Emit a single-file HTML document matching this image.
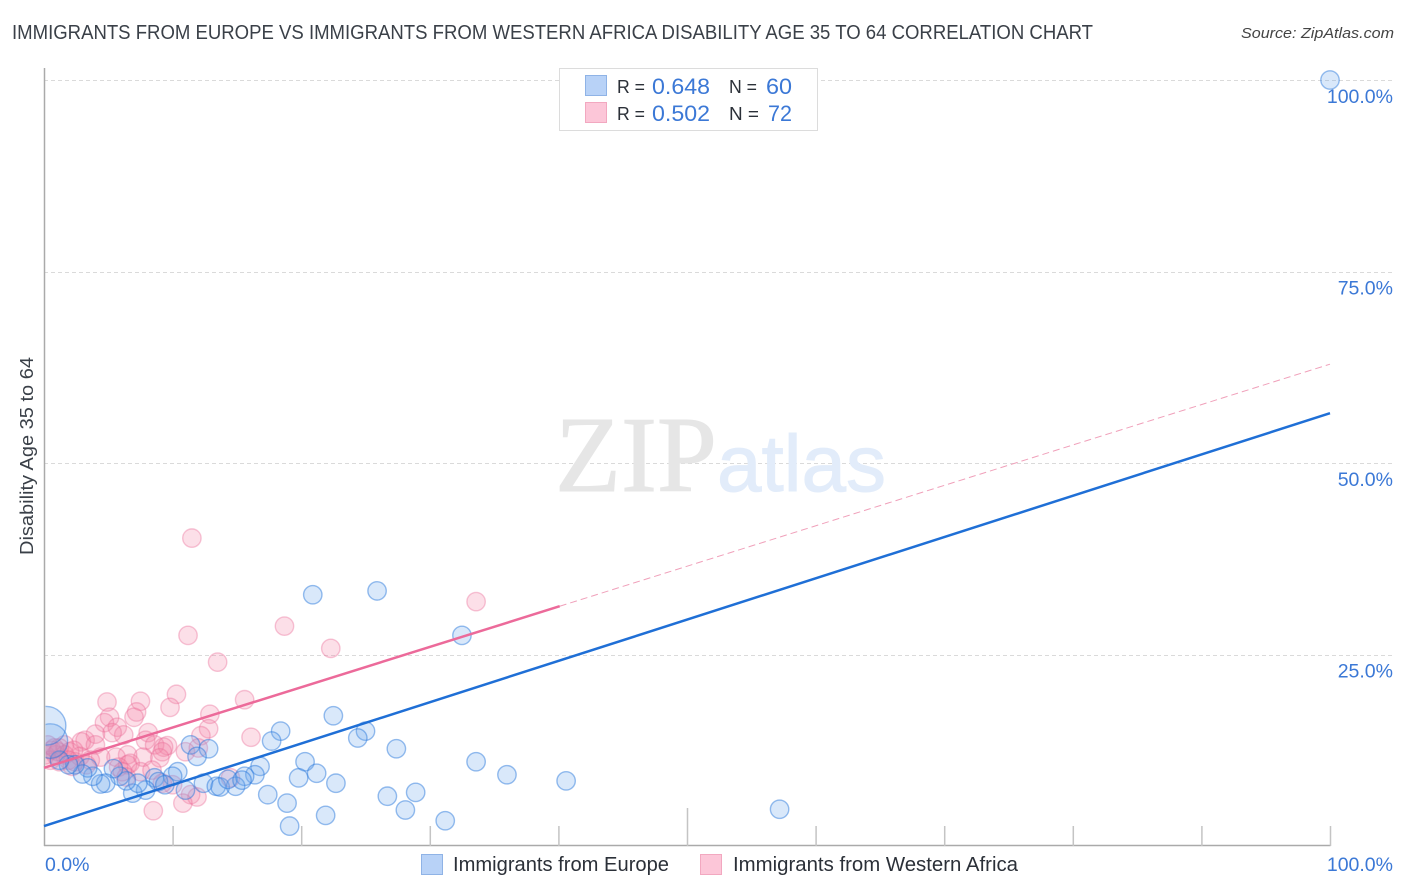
<!DOCTYPE html>
<html lang="en">
<head>
<meta charset="utf-8">
<title>Immigrants from Europe vs Immigrants from Western Africa Disability Age 35 to 64 Correlation Chart</title>
<style>
html,body{margin:0;padding:0;background:#fff;width:1406px;height:892px;overflow:hidden}
svg{display:block;font-family:"Liberation Sans",sans-serif}
</style>
</head>
<body>
<svg id="chart" width="1406" height="892" viewBox="0 0 1406 892" xmlns="http://www.w3.org/2000/svg">
<defs><clipPath id="plot-clip"><rect x="45.5" y="60" width="1355" height="786"/></clipPath></defs>
<rect x="0" y="0" width="1406" height="892" fill="#fff"/>
<text x="12" y="39" font-size="20" fill="#3a4048" textLength="1081" lengthAdjust="spacingAndGlyphs">IMMIGRANTS FROM EUROPE VS IMMIGRANTS FROM WESTERN AFRICA DISABILITY AGE 35 TO 64 CORRELATION CHART</text>
<text x="1394" y="38" font-size="15" font-style="italic" fill="#444" text-anchor="end" textLength="153" lengthAdjust="spacingAndGlyphs">Source: ZipAtlas.com</text>
<g id="grid"></g>
<g>
<text x="555" y="491" font-family="'Liberation Serif',serif" font-size="108" fill="#e6e6e6" stroke="#e6e6e6" stroke-width="1">ZIP</text>
<text x="717" y="491" font-size="80" fill="#e2ecfa" stroke="#e2ecfa" stroke-width="1">atlas</text>
</g>
<g id="axes"></g>
<g id="points" clip-path="url(#plot-clip)"></g>
<g id="trends"></g>
<g id="labels"></g>
<text transform="translate(33,456) rotate(-90)" font-size="18" fill="#3a4048" text-anchor="middle" textLength="198" lengthAdjust="spacingAndGlyphs">Disability Age 35 to 64</text>
<g>
<rect x="559.5" y="68.5" width="258" height="62" fill="#fff" stroke="#dcdcdc" stroke-width="1"/>
<rect x="585.5" y="75.5" width="21" height="20" fill="#b8d2f7" stroke="#8fb3e6"/>
<text x="617" y="93" font-size="18" fill="#2b3038" textLength="28" lengthAdjust="spacingAndGlyphs">R =</text>
<text x="652" y="94" font-size="22" fill="#3b78d6" textLength="58" lengthAdjust="spacingAndGlyphs">0.648</text>
<text x="729" y="93" font-size="18" fill="#2b3038" textLength="28" lengthAdjust="spacingAndGlyphs">N =</text>
<text x="766" y="94" font-size="22" fill="#3b78d6" textLength="26" lengthAdjust="spacingAndGlyphs">60</text>
<rect x="585.5" y="102.5" width="21" height="20" fill="#fcc6d8" stroke="#f2a8c0"/>
<text x="617" y="120" font-size="18" fill="#2b3038" textLength="28" lengthAdjust="spacingAndGlyphs">R =</text>
<text x="652" y="121" font-size="22" fill="#3b78d6" textLength="58" lengthAdjust="spacingAndGlyphs">0.502</text>
<text x="729" y="120" font-size="18" fill="#2b3038" textLength="30" lengthAdjust="spacingAndGlyphs">N =</text>
<text x="768" y="121" font-size="22" fill="#3b78d6" textLength="24" lengthAdjust="spacingAndGlyphs">72</text>
</g>
<g>
<rect x="421.5" y="854.5" width="21" height="20" fill="#b8d2f7" stroke="#8fb3e6"/>
<text x="453" y="871" font-size="20" fill="#2b3038" textLength="216" lengthAdjust="spacingAndGlyphs">Immigrants from Europe</text>
<rect x="700.5" y="854.5" width="21" height="20" fill="#fcc6d8" stroke="#f2a8c0"/>
<text x="733" y="871" font-size="20" fill="#2b3038" textLength="285" lengthAdjust="spacingAndGlyphs">Immigrants from Western Africa</text>
</g>
</svg>
<script>
const europeX = [100,20.9,25.9,32.5,22.5,25.0,24.4,18.4,17.7,27.4,
33.6,36.0,40.6,57.2,12.8,11.4,11.9,20.3,16.8,21.2,
19.8,22.7,16.4,15.6,17.4,18.9,21.9,19.1,26.7,28.9,
28.1,31.2,10.4,10.0,8.6,8.9,9.4,11.0,7.9,6.9,
7.3,6.4,5.9,5.4,4.8,4.4,3.8,3.4,3.0,2.4,
1.9,1.2,0.5,0.2,12.4,13.4,13.7,14.9,14.3,15.4];
const europeY = [100,32.8,33.3,27.5,17.0,15.0,14.1,15.0,13.7,12.7,
11.0,9.3,8.5,4.8,12.7,13.2,11.7,11.0,10.4,9.5,
8.9,8.2,9.3,9.1,6.7,5.6,4.0,2.6,6.5,7.0,
4.7,3.3,9.7,9.1,8.9,8.4,8.0,7.3,7.3,6.9,
8.2,8.5,9.1,10.1,8.2,8.1,9.1,10.2,9.4,10.6,
10.6,11.2,13.7,15.7,8.2,7.8,7.7,7.8,8.7,8.6];
const europeWeight = [1,1,1,1,1,1,1,1,1,1,
1,1,1,1,1,1,1,1,1,1,
1,1,1,1,1,1,1,1,1,1,
1,1,1,1,1,1,1,1,1,1,
1,1,1,1,1,1,1,1,1,1,
1,1,3.5,4.4,1,1,1,1,1,1];
const africaX = [11.5,33.6,18.7,11.2,13.5,22.3,10.3,15.6,4.9,7.5,
9.8,7.2,7.0,12.9,5.1,4.7,5.7,6.2,5.3,12.8,
8.1,16.1,12.2,7.9,3.2,4.0,2.9,4.0,8.6,9.6,
9.3,9.2,11.0,12.0,9.0,7.7,6.5,5.6,6.5,6.7,
5.8,4.4,3.6,2.8,2.4,2.3,1.6,1.2,0.9,0.5,
0.1,0.3,0.6,1.1,1.6,2.0,3.3,7.5,8.4,14.5,
10.0,11.4,11.9,10.8,8.5,6.1,6.4,9.2,1.9,1.2,
0.8,2.2];
const africaY = [40.2,31.9,28.7,27.5,24.0,25.8,19.8,19.1,18.8,18.9,
18.1,17.5,16.8,17.2,16.8,16.1,15.5,14.5,14.8,15.3,
14.8,14.2,14.4,13.8,13.8,14.6,13.6,13.2,13.2,13.1,
12.9,12.3,12.3,12.8,11.5,11.6,11.9,11.6,10.6,10.8,
10.3,11.6,11.2,11.7,11.0,12.5,13.2,12.8,11.9,11.2,
11.9,13.2,12.5,12.3,11.9,12.3,10.6,9.7,9.9,8.9,
8.0,6.7,6.4,5.6,4.6,9.7,9.0,8.2,11.2,11.0,
12.8,10.4];
const europeTrendX = [0,100];
const europeTrendY = [2.6,56.5];
const africaTrendX = [0,40.1];
const africaTrendY = [10.2,31.3];
const africaDashX = [40.1,100];
const africaDashY = [31.3,62.9];
const xTickValues = [0,10,20,30,40,50,60,70,80,90,100];
const xMajorTick = 50;
const xLabelValues = [0,100];
const xLabelText = ['0.0%','100.0%'];
const yGridValues = [25,50,75,100];
const yLabelText = ['25.0%','50.0%','75.0%','100.0%'];

const NS = 'http://www.w3.org/2000/svg';
function xScale(v){ return 44 + v * 12.86; }
function yScale(v){ return 846 - v * 7.66; }
function make(tag, attrs, parent){
  const el = document.createElementNS(NS, tag);
  for (const k in attrs) el.setAttribute(k, attrs[k]);
  parent.appendChild(el);
  return el;
}
const grid = document.getElementById('grid');
const axes = document.getElementById('axes');
const pts = document.getElementById('points');
const trends = document.getElementById('trends');
const labels = document.getElementById('labels');

yGridValues.forEach(function(v, i){
  const y = Math.round(yScale(v)) + 0.5;
  const line = make('line', {x1:44, x2:1394, y1:y, y2:y, stroke:'#dadada', 'stroke-width':1, 'stroke-dasharray':'4 3'}, grid);
  
  
  const t = make('text', {x:1393, y:yScale(v)+23, 'font-size':19.5, fill:'#3b78d6', 'text-anchor':'end'}, labels);
  t.textContent = yLabelText[i];
  
  
});

const yAxis = make('line', {x1:44.5, x2:44.5, y1:68, y2:846, stroke:'#aaaaaa', 'stroke-width':1.5}, axes);


const xAxis = make('line', {x1:44, x2:1330.5, y1:845.5, y2:845.5, stroke:'#aaaaaa', 'stroke-width':1.5}, axes);


xTickValues.forEach(function(v){
  if (v === 0) return;
  const x = xScale(v) + 0.5;
  const top = v === xMajorTick ? 808 : 826;
  const tick = make('line', {x1:x, x2:x, y1:top, y2:846, stroke:'#c4c4c4', 'stroke-width':1.5}, axes);
  
  
});
xLabelValues.forEach(function(v, i){
  const t = make('text', {x: v === 0 ? 45 : 1393, y:871, 'font-size':19.5, fill:'#3b78d6', 'text-anchor': v === 0 ? 'start' : 'end'}, labels);
  t.textContent = xLabelText[i];
  
  
});

africaX.forEach(function(v, i){
  const c = make('circle', {cx:xScale(v), cy:yScale(africaY[i]), r:9.2, fill:'rgba(245,130,165,0.26)', stroke:'rgba(235,105,150,0.38)', 'stroke-width':1.4}, pts);
  
  
});
europeX.forEach(function(v, i){
  const c = make('circle', {cx:xScale(v), cy:yScale(europeY[i]), r:9.2*Math.sqrt(europeWeight[i]), fill:'rgba(110,165,235,0.26)', stroke:'rgba(40,120,220,0.48)', 'stroke-width':1.4}, pts);
  
  
});

const dashLine = make('line', {x1:xScale(africaDashX[0]), y1:yScale(africaDashY[0]), x2:xScale(africaDashX[1]), y2:yScale(africaDashY[1]), stroke:'#f0a0ba', 'stroke-width':1, 'stroke-dasharray':'7 4'}, trends);


const africaLine = make('line', {x1:xScale(africaTrendX[0]), y1:yScale(africaTrendY[0]), x2:xScale(africaTrendX[1]), y2:yScale(africaTrendY[1]), stroke:'#ec6a9a', 'stroke-width':2.5}, trends);


const europeLine = make('line', {x1:xScale(europeTrendX[0]), y1:yScale(europeTrendY[0]), x2:xScale(europeTrendX[1]), y2:yScale(europeTrendY[1]), stroke:'#1f6fd6', 'stroke-width':2.5}, trends);


</script>
</body>
</html>
